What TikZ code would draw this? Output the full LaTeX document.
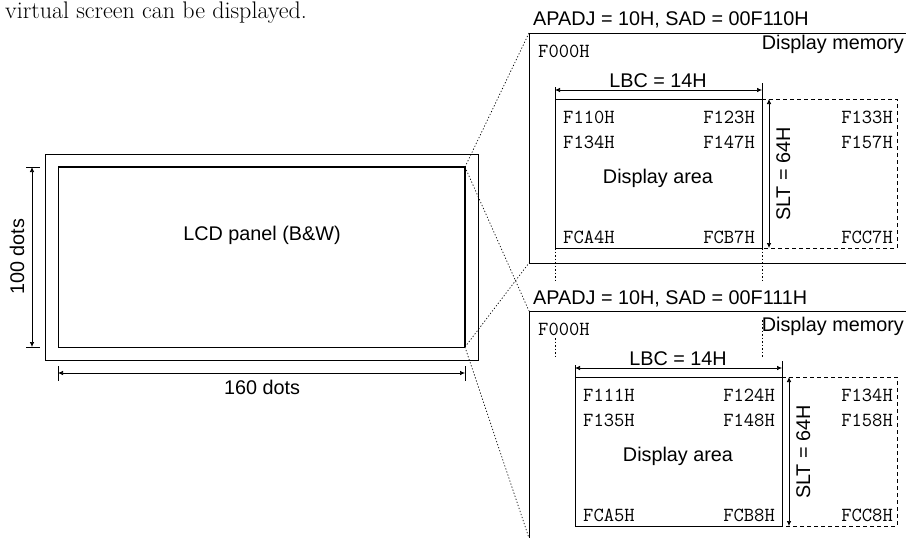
\documentclass[tikz,border=0pt]{standalone}
\usepackage{fontspec}
\setsansfont{Liberation Sans}
\usetikzlibrary{arrows.meta}

\tikzset{
  frame/.style={line width=1pt},
  dim/.style={{Latex[length=5pt,width=4.5pt]}-{Latex[length=5pt,width=4.5pt]}, line width=0.7pt},
  extline/.style={line width=0.7pt},
  zoomline/.style={line width=0.7pt, dash pattern=on 1.2pt off 2pt},
  hidden/.style={line width=0.9pt, dash pattern=on 4pt off 3pt},
  proj/.style={line width=0.7pt, dash pattern=on 1.5pt off 2pt},
  lbl/.style={font=\sffamily\fontsize{19.8}{20}\selectfont, inner sep=0pt},
  addr/.style={font=\ttfamily\fontsize{20}{20}\selectfont, inner sep=0pt},
  body/.style={font=\rmfamily\fontsize{24}{25}\selectfont, inner sep=0pt}
}

\begin{document}
\begin{tikzpicture}[x=1pt,y=-1pt]
\useasboundingbox (0,0) rectangle (906,538);

\node[body, anchor=base west] (txt) at (5,19) {virtual screen can be displayed.};

% LCD panel:
\draw[frame] (45,154) rectangle (478,360);
\coordinate (pTL) at (58,167);
\coordinate (pTR) at (465,167);
\coordinate (pBR) at (465,347);
\coordinate (pBL) at (58,347);
\draw[frame] (pTL) -- (pBL) -- (pBR);
\draw[line width=2.2pt] (pTL) -- (pTR) -- (pBR);
\node[lbl, anchor=base] (lcd) at (262,240) {LCD panel (B\&W)};
% dimensions:
\draw[extline] (26,167) -- (40,167) (26,347) -- (40,347);
\draw[dim] (32,167) -- (32,347);
\node[lbl, rotate=90, anchor=base] (hgt) at (24,257) {100 dots};
\draw[extline] (58,366) -- (58,381) (465,366) -- (465,381);
\draw[dim] (58,373) -- (465,373);
\node[lbl, anchor=base] (wid) at (262,394) {160 dots};

% upper memory:
\coordinate (mAtl) at (529,33);
\coordinate (mAbl) at (529,263);
\draw[frame] (906,33) -- (mAtl) -- (mAbl) -- (906,263);
\node[lbl, anchor=base west] (sadA) at (533,26) {APADJ = 10H, SAD = 00F110H};
\node[addr, anchor=base west] (orgA) at (538,57) {F000H};
\node[lbl, anchor=base east] (memA) at (904,49) {Display memory};
\draw[frame] (555,99) rectangle (762,248);
\draw[hidden] (762,99) -- (897,99) -- (897,248) -- (762,248);
\draw[extline] (555,87) -- (555,99) (762,83) -- (762,99);
\draw[dim] (555,90) -- (762,90);
\node[lbl, anchor=base] (lbcA) at (658,87) {LBC = 14H};
\draw[dim] (769,99) -- (769,248);
\node[lbl, rotate=90, anchor=base] (sltA) at (790,174) {SLT = 64H};
\node[addr, anchor=base west] (a1) at (563,123) {F110H};
\node[addr, anchor=base east] (a2) at (755,123) {F123H};
\node[addr, anchor=base east] (a3) at (893,123) {F133H};
\node[addr, anchor=base west] (a4) at (563,148) {F134H};
\node[addr, anchor=base east] (a5) at (755,148) {F147H};
\node[addr, anchor=base east] (a6) at (893,148) {F157H};
\node[lbl, anchor=base] (areaA) at (658,183) {Display area};
\node[addr, anchor=base west] (a7) at (563,243) {FCA4H};
\node[addr, anchor=base east] (a8) at (755,243) {FCB7H};
\node[addr, anchor=base east] (a9) at (893,243) {FCC7H};
\draw[proj] (555,248) -- (555,281) (762,248) -- (762,281);

% lower memory:
\coordinate (mBtl) at (529,311);
\coordinate (mBbl) at (529,538);
\draw[frame] (906,311) -- (mBtl) -- (mBbl);
\node[lbl, anchor=base west] (sadB) at (533,304) {APADJ = 10H, SAD = 00F111H};
\node[addr, anchor=base west] (orgB) at (538,335) {F000H};
\node[lbl, anchor=base east] (memB) at (904,331) {Display memory};
\draw[proj] (555,338) -- (555,356) (762,320) -- (762,358);
\draw[frame] (575,377) rectangle (782,526);
\draw[hidden] (782,377) -- (897,377) -- (897,526) -- (782,526);
\draw[extline] (575,365) -- (575,377) (782,361) -- (782,377);
\draw[dim] (575,368) -- (782,368);
\node[lbl, anchor=base] (lbcB) at (678,365) {LBC = 14H};
\draw[dim] (789,377) -- (789,526);
\node[lbl, rotate=90, anchor=base] (sltB) at (810,452) {SLT = 64H};
\node[addr, anchor=base west] (b1) at (583,401) {F111H};
\node[addr, anchor=base east] (b2) at (775,401) {F124H};
\node[addr, anchor=base east] (b3) at (893,401) {F134H};
\node[addr, anchor=base west] (b4) at (583,426) {F135H};
\node[addr, anchor=base east] (b5) at (775,426) {F148H};
\node[addr, anchor=base east] (b6) at (893,426) {F158H};
\node[lbl, anchor=base] (areaB) at (678,461) {Display area};
\node[addr, anchor=base west] (b7) at (583,521) {FCA5H};
\node[addr, anchor=base east] (b8) at (775,521) {FCB8H};
\node[addr, anchor=base east] (b9) at (893,521) {FCC8H};

% zoom lines:
\draw[zoomline] (pTR) -- (mAtl);
\draw[zoomline] (pTR) -- (mBtl);
\draw[zoomline] (pBR) -- (mAbl);
\draw[zoomline] (pBR) -- (mBbl);
\end{tikzpicture}
\end{document}
